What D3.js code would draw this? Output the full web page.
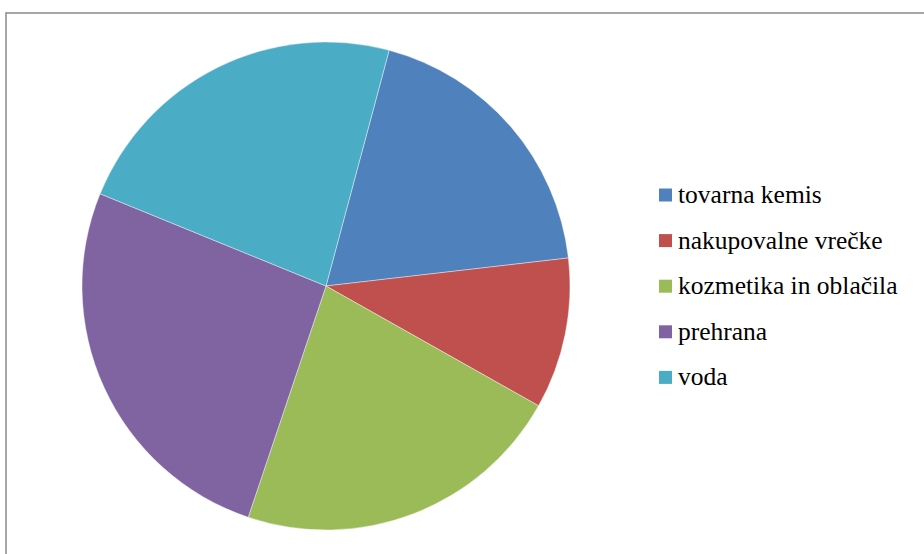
<!DOCTYPE html>
<html>
<head>
<meta charset="utf-8">
<script src="https://cdn.jsdelivr.net/npm/d3@7/dist/d3.min.js"></script>
</head>
<body style="margin:0">
<script>
// Share of plastic use by category (percent)
const categories = ["tovarna kemis", "nakupovalne vrečke", "kozmetika in oblačila", "prehrana", "voda"];
const values = [19, 10, 22, 26, 23];
const colors = ["#4F81BD", "#C0504D", "#9BBB59", "#8064A2", "#4BACC6"];

const W = 924, H = 554;
const svg = d3.select("body").append("svg")
  .attr("width", W).attr("height", H)
  .style("display", "block");

// chart frame (top and left edges visible)
svg.append("line").attr("x1", 6).attr("x2", W).attr("y1", 13).attr("y2", 13)
  .attr("stroke", "#8a8a8a").attr("stroke-width", 1.5);
svg.append("line").attr("x1", 6).attr("x2", 6).attr("y1", 12.25).attr("y2", H)
  .attr("stroke", "#8a8a8a").attr("stroke-width", 1.5);

const cx = 326, cy = 286, r = 244;
const start = 15 * Math.PI / 180;

const pie = d3.pie().sort(null).value(d => d.v)
  .startAngle(start).endAngle(start + 2 * Math.PI);
const arc = d3.arc().innerRadius(0).outerRadius(r);
const color = d3.scaleOrdinal().domain(categories).range(colors);

const data = categories.map((c, i) => ({ c, v: values[i] }));

svg.append("g").attr("transform", `translate(${cx},${cy})`)
  .selectAll("path").data(pie(data)).join("path")
  .attr("d", arc)
  .attr("fill", d => color(d.data.c))
  .attr("stroke", "#ffffff").attr("stroke-opacity", 0.5).attr("stroke-width", 0.8);

// legend: colour swatch plus label per category
svg.selectAll("rect.key").data(categories).join("rect")
  .attr("class", "key")
  .attr("x", 659).attr("y", (d, i) => 188.5 + i * 45.6)
  .attr("width", 13).attr("height", 13)
  .attr("fill", d => color(d));
svg.selectAll("text.key").data(categories).join("text")
  .attr("class", "key")
  .attr("x", 678).attr("y", (d, i) => 203 + i * 45.6)
  .attr("font-size", 25.5)
  .style("font-family", '"Liberation Serif", "Tinos", "FreeSerif", monospace')
  .attr("fill", "#000")
  .text(d => d);
</script>
</body>
</html>
